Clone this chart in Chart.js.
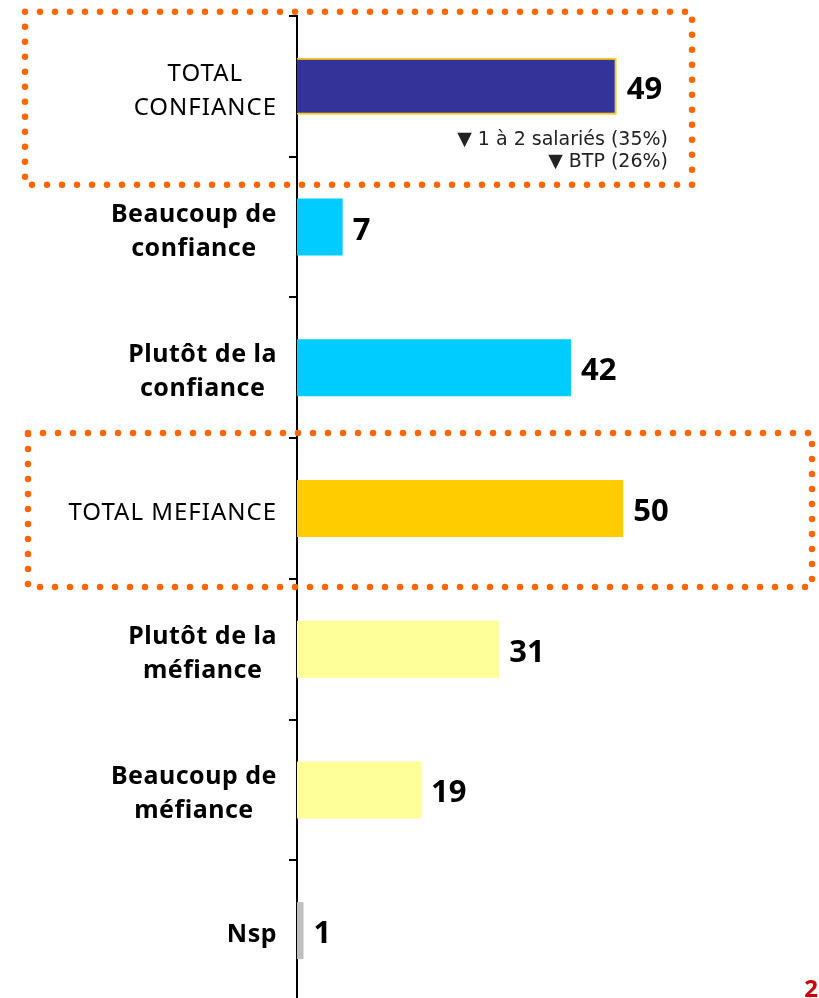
<!DOCTYPE html>
<html>
<head>
<meta charset="utf-8">
<script src="https://cdn.jsdelivr.net/npm/chart.js@4/dist/chart.umd.min.js"></script>
<style>
  html, body { margin: 0; padding: 0; background: #fff; overflow: hidden; }
  #wrap { width: 819px; height: 1003px; }
</style>
</head>
<body>
<div id="wrap"><canvas id="c" width="819" height="1003"></canvas></div>
<script>
const categories = [
  ["TOTAL", "CONFIANCE"],
  ["Beaucoup de", "confiance"],
  ["Plutôt de la", "confiance"],
  ["TOTAL MEFIANCE"],
  ["Plutôt de la", "méfiance"],
  ["Beaucoup de", "méfiance"],
  ["Nsp"]
];
const values = [49, 7, 42, 50, 31, 19, 1];
const totalRows = [0, 3];
const noteLines = ["▼ 1 à 2 salariés (35%)", "▼ BTP (26%)"];
const pageNumber = "2";

const barColors = ["#333399", "#00CCFF", "#00CCFF", "#FFCC00", "#FFFF99", "#FFFF99", "#C0C0C0"];

const FONT = "'Noto Sans', 'DejaVu Sans', sans-serif";
const NOTE_FONT = "'DejaVu Sans', Verdana, sans-serif";

const decoPlugin = {
  id: 'deco',
  afterDatasetsDraw(chart) {
    const ctx = chart.ctx;
    const y = chart.scales.y;
    const meta = chart.getDatasetMeta(0);
    ctx.save();

    // category labels: block right-aligned, lines centered
    categories.forEach((lines, i) => {
      const cy = y.getPixelForValue(i);
      const isTotal = totalRows.includes(i);
      ctx.font = (isTotal ? "normal 24px " : "bold 25px ") + FONT;
      ctx.letterSpacing = isTotal ? "1px" : "0.5px";
      ctx.fillStyle = "#000";
      const widths = lines.map(l => ctx.measureText(l).width);
      const bw = Math.max(...widths);
      const cx = 277 - bw / 2;
      ctx.textAlign = "center";
      ctx.textBaseline = "alphabetic";
      const n = lines.length;
      lines.forEach((l, k) => {
        const by = cy + 11.5 + (k - (n - 1) / 2) * 34;
        ctx.fillText(l, cx, by);
      });
    });
    ctx.letterSpacing = "0px";

    // value labels
    ctx.font = "bold 31px " + FONT;
    ctx.fillStyle = "#000";
    ctx.textAlign = "left";
    ctx.textBaseline = "alphabetic";
    meta.data.forEach((bar, i) => {
      ctx.fillText(String(values[i]), bar.x + 10, bar.y + 12.5);
    });

    // note under first bar
    ctx.font = "normal 19px " + NOTE_FONT;
    ctx.fillStyle = "#222";
    ctx.textAlign = "right";
    const b0 = meta.data[0];
    noteLines.forEach((t, k) => {
      ctx.fillText(t, 668, b0.y + 58.5 + k * 22);
    });

    // dotted boxes
    ctx.strokeStyle = "#FF6600";
    ctx.lineWidth = 6.5;
    ctx.lineCap = "round";
    ctx.setLineDash([0, 15]);
    const c0 = y.getPixelForValue(0);
    const c3 = y.getPixelForValue(3);
    ctx.beginPath();
    ctx.rect(25, c0 - 74.5, 667, 173);
    ctx.stroke();
    ctx.beginPath();
    ctx.rect(28, c3 - 75.5, 784, 154);
    ctx.stroke();
    ctx.setLineDash([]);

    // page number
    ctx.font = "bold 24px " + FONT;
    ctx.fillStyle = "#CC0000";
    ctx.textAlign = "right";
    ctx.fillText(pageNumber, 818, 997);
    ctx.restore();
  }
};

new Chart(document.getElementById('c'), {
  type: 'bar',
  data: {
    labels: categories,
    datasets: [{
      data: values,
      backgroundColor: barColors,
      borderColor: "#FFCC00",
      borderWidth: [2, 0, 0, 0, 0, 0, 0],
      barPercentage: 0.405,
      categoryPercentage: 1.0
    }]
  },
  options: {
    indexAxis: 'y',
    responsive: false,
    animation: false,
    devicePixelRatio: 1,
    layout: { padding: { top: 16, bottom: 2, left: 0, right: 0 } },
    plugins: { legend: { display: false }, tooltip: { enabled: false } },
    scales: {
      x: { display: false, min: 0, max: 80 },
      y: {
        display: true,
        ticks: { display: false },
        grid: { display: true, drawOnChartArea: false, drawTicks: true, tickLength: 8, color: "#000", lineWidth: 2, offset: true },
        border: { display: true, color: "#000", width: 2 },
        afterFit(scale) { scale.width = 297; }
      }
    }
  },
  plugins: [decoPlugin]
});
</script>
</body>
</html>
